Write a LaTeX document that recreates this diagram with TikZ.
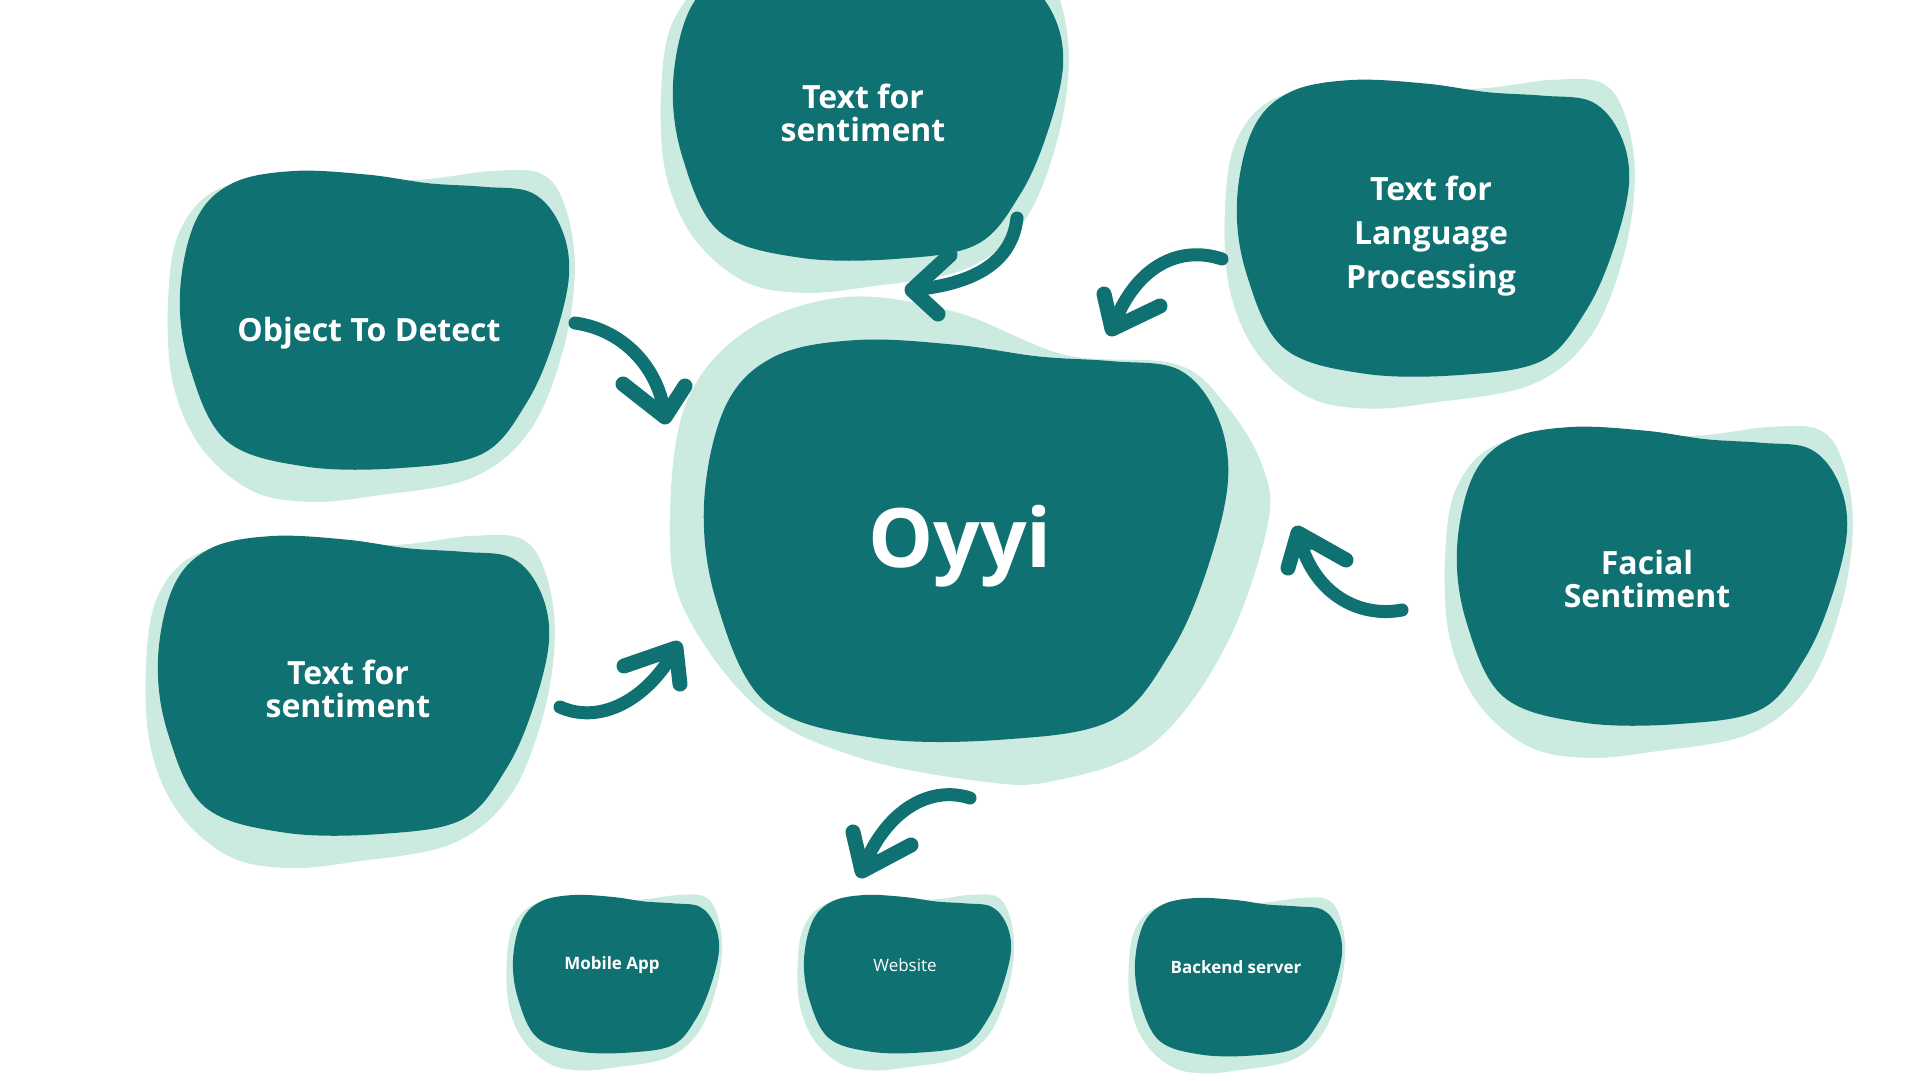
\documentclass[tikz,border=0pt]{standalone}
\usepackage{fontspec}
\usetikzlibrary{calc}
\setmainfont{Open Sans}[BoldFont={Open Sans Bold}]
\definecolor{teal1}{HTML}{107173}
\definecolor{mint}{HTML}{CBEBE0}
\tikzset{
  darkblob/.style={fill=teal1},
  shadowblob/.style={fill=mint},
  arrowline/.style={draw=teal1, line width=13pt, line cap=round},
  arrowhead/.style={draw=teal1, line width=15pt, line join=round, line cap=round},
  headfill/.style={fill=teal1},
  bigtext/.style={text=white, font=\fontsize{32}{33}\selectfont\bfseries, align=center, inner sep=0pt},
  smalltext/.style={text=white, font=\fontsize{17}{19}\selectfont\bfseries, align=center, inner sep=0pt},
  thintext/.style={text=white, font=\fontsize{17}{19}\selectfont, align=center, inner sep=0pt},
}
\newcommand\darkshape{plot[smooth cycle, tension=0.6] coordinates {(0.292,0) (0.481,0.012) (0.638,0.041) (0.78,0.053) (0.906,0.074) (0.978,0.185) (1.0,0.35) (0.959,0.576) (0.89,0.78) (0.78,0.947) (0.575,0.996) (0.324,0.992) (0.119,0.905) (0.025,0.658) (0,0.41) (0.041,0.165) (0.135,0.041)}}
\newcommand\myblob[4]{%
  \begin{scope}[shift={(#1,#2)}, x=#3pt, y=-#4pt]
    \fill[shadowblob] plot[smooth cycle, tension=0.6] coordinates {(0.8,0.0) (0.93,0.01) (0.99,0.12) (1.015,0.33) (0.985,0.6) (0.9,0.87) (0.75,1.03) (0.5,1.09) (0.33,1.11) (0.18,1.07) (0.05,0.92) (-0.02,0.7) (-0.03,0.42) (0.0,0.2) (0.1,0.06) (0.3,0.02) (0.6,0.03)};
    \fill[darkblob] \darkshape;
  \end{scope}}
% #1 tail, #2 c1, #3 c2, #4 tip, #5 wing1, #6 wing2
\newcommand\brusharrow[6]{%
  \draw[arrowline] #1 .. controls #2 and #3 .. #4;
  \draw[arrowhead] #5 -- #4 -- #6;
  \fill[headfill] #4 -- ($#4!0.55!#5$) -- ($#4!0.55!#6$) -- cycle;}
\begin{document}
\begin{tikzpicture}[x=1pt, y=-1pt]
\useasboundingbox (0,0) rectangle (1920,1080);
\clip (0,0) rectangle (1920,1080);
\fill[white] (0,0) rectangle (1920,1080);

% center blob
\begin{scope}[shift={(704,340)}, x=524pt, y=-401pt]
  \fill[shadowblob] plot[smooth cycle, tension=0.6] coordinates {(0.269,-0.107) (0.479,-0.07) (0.689,0.037) (0.9,0.06) (0.994,0.159) (1.065,0.312) (1.075,0.465) (0.993,0.77) (0.853,1.01) (0.666,1.10) (0.526,1.10) (0.292,1.04) (0.105,0.92) (-0.035,0.68) (-0.065,0.465) (-0.035,0.16) (0.082,-0.024)};
  \fill[darkblob] \darkshape;
\end{scope}

\myblob{180}{171}{389}{298}
\myblob{158}{536}{391}{299}
\myblob{673}{-38}{390}{298}
\myblob{1237}{80}{392}{296}
\myblob{1457}{427}{390}{298}
\myblob{513}{895}{206}{158}
\myblob{804}{895}{207}{158}
\myblob{1135}{898}{207}{158}

% texts
\node[bigtext] (ntop) at (863,113) {Text for\\sentiment};
\node[bigtext, font=\fontsize{32}{44}\selectfont\bfseries] (nlang) at (1431,236) {Text for\\Language\\Processing};
\node[bigtext] (nobj) at (369,333) {Object To Detect};
\node[bigtext] (nleft) at (348,689) {Text for\\sentiment};
\node[bigtext] (nface) at (1647,579) {Facial\\Sentiment};
\node[text=white, font=\fontsize{82}{90}\selectfont\bfseries, inner sep=0pt] (noyyi) at (960,546) {Oyyi};
\node[smalltext] (nmob) at (612,965) {Mobile App};
\node[thintext] (nweb) at (905,965) {Website};
\node[smalltext] (nback) at (1236,967) {Backend server};

% arrows
\coordinate (a1s) at (1017,218); \coordinate (a1t) at (912,290);
\coordinate (a2s) at (575,323); \coordinate (a2t) at (665,417);
\coordinate (a3s) at (1222,259); \coordinate (a3t) at (1112,329);
\coordinate (a4s) at (1402,610); \coordinate (a4t) at (1298,533);
\coordinate (a5s) at (970,798); \coordinate (a5t) at (862,871);
\coordinate (a6s) at (560,707); \coordinate (a6t) at (676,648);

\brusharrow{(a1s)}{(1012,262)}{(975,284)}{(a1t)}{(950,255)}{(938,314)}
\brusharrow{(a2s)}{(625,330)}{(660,370)}{(a2t)}{(623,384)}{(685,386)}
\brusharrow{(a3s)}{(1180,245)}{(1135,265)}{(a3t)}{(1104,294)}{(1160,306)}
\brusharrow{(a4s)}{(1360,618)}{(1312,595)}{(a4t)}{(1288,568)}{(1346,560)}
\brusharrow{(a5s)}{(930,785)}{(885,810)}{(a5t)}{(853,832)}{(911,845)}
\brusharrow{(a6s)}{(600,725)}{(648,700)}{(a6t)}{(624,666)}{(680,684)}
\end{tikzpicture}
\end{document}
